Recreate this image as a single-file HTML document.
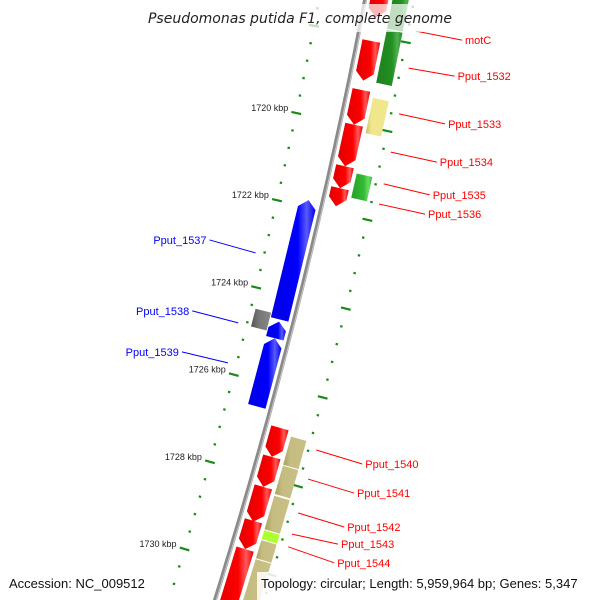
<!DOCTYPE html>
<html><head><meta charset="utf-8"><style>
html,body{margin:0;padding:0;background:#fff;overflow:hidden;width:600px;height:600px;}
svg{display:block;font-family:"Liberation Sans","DejaVu Sans",sans-serif;}
</style></head><body>
<svg id="chart" width="600" height="600" viewBox="0 0 600 600">
<defs>
<linearGradient id="gRed" x1="0" x2="1" y1="0" y2="0"><stop offset="0" stop-color="#e00000"/><stop offset="0.6" stop-color="#ff0000"/><stop offset="0.8" stop-color="#ff5a5a"/><stop offset="1" stop-color="#e80000"/></linearGradient>
<linearGradient id="gBlue" x1="0" x2="1" y1="0" y2="0"><stop offset="0" stop-color="#0000e0"/><stop offset="0.6" stop-color="#0000ff"/><stop offset="0.8" stop-color="#5a5aff"/><stop offset="1" stop-color="#0000e8"/></linearGradient>
<linearGradient id="gDkGreen" x1="0" x2="1" y1="0" y2="0"><stop offset="0" stop-color="#1f801f"/><stop offset="0.6" stop-color="#229022"/><stop offset="0.8" stop-color="#4fb04f"/><stop offset="1" stop-color="#228b22"/></linearGradient>
<linearGradient id="gGreen" x1="0" x2="1" y1="0" y2="0"><stop offset="0" stop-color="#28a028"/><stop offset="0.6" stop-color="#33bb33"/><stop offset="0.8" stop-color="#66dd66"/><stop offset="1" stop-color="#33bb33"/></linearGradient>
<linearGradient id="gYellow" x1="0" x2="1" y1="0" y2="0"><stop offset="0" stop-color="#c8c070"/><stop offset="0.25" stop-color="#f0e68c"/><stop offset="1" stop-color="#f0e68c"/></linearGradient>
<linearGradient id="gKhaki" x1="0" x2="1" y1="0" y2="0"><stop offset="0" stop-color="#a8a060"/><stop offset="0.3" stop-color="#c4bc80"/><stop offset="1" stop-color="#c8c084"/></linearGradient>
<linearGradient id="gLime" x1="0" x2="1" y1="0" y2="0"><stop offset="0" stop-color="#adff2f"/><stop offset="1" stop-color="#adff2f"/></linearGradient>
<linearGradient id="gGray" x1="0" x2="1" y1="0" y2="0"><stop offset="0" stop-color="#555"/><stop offset="0.4" stop-color="#777"/><stop offset="1" stop-color="#888"/></linearGradient>
</defs>
<g id="layer"></g>
<rect x="148" y="4" width="304" height="28" fill="#fff" fill-opacity="0.72"/>
<text x="300" y="23" text-anchor="middle" font-size="14" font-style="italic" fill="#222" style="font-family:'DejaVu Sans',sans-serif">Pseudomonas putida F1, complete genome</text>
<text x="9" y="588" font-size="13" fill="#111">Accession: NC_009512</text>
<rect x="257" y="572" width="343" height="28" fill="#fff" fill-opacity="0.85"/>
<text x="261" y="588" font-size="13" fill="#111">Topology: circular; Length: 5,959,964 bp; Genes: 5,347</text>
</svg>
<script>
// kbp position data
const tickMajorKbp = [1716, 1718, 1720, 1722, 1724, 1726, 1728, 1730, 1732];
const tickLabels = ["1716 kbp","1718 kbp","1720 kbp","1722 kbp","1724 kbp","1726 kbp","1728 kbp","1730 kbp","1732 kbp"];
const geneStarts = [1716.86,1718.30,1719.41,1720.20,1721.14,1721.64, 1716.9,1717.98,1719.52,1721.23, 1722.05,1724.82,1725.20,1724.66, 1727.07,1727.73,1728.41,1729.18,1729.82, 1727.18,1727.84,1728.52,1729.30,1729.52,1729.95];
const geneEnds   = [1717.77,1719.20,1720.20,1721.14,1721.64,1722.05, 1717.98,1719.20,1720.34,1721.80, 1724.77,1725.20,1726.75,1725.09, 1727.73,1728.41,1729.20,1729.82,1731.6, 1727.84,1728.50,1729.30,1729.52,1729.95,1731.6];
const geneStrand = [1,1,1,1,1,1, 0,0,0,0, -1,-1,-1,2, 1,1,1,1,1, 0,0,0,0,0,0];
const geneFill   = ["gRed","gRed","gRed","gRed","gRed","gRed","gDkGreen","gDkGreen","gYellow","gGreen","gBlue","gBlue","gBlue","gGray","gRed","gRed","gRed","gRed","gRed","gKhaki","gKhaki","gKhaki","gLime","gKhaki","gKhaki"];
const geneNames  = ["motC","Pput_1532","Pput_1533","Pput_1534","Pput_1535","Pput_1536","cog-1","cog-2","cog-3","cog-4","Pput_1537","Pput_1538b","Pput_1539","Pput_1538","Pput_1540","Pput_1541","Pput_1542","Pput_1543","Pput_1544","cog-5","cog-6","cog-7","cog-8","cog-9","cog-10"];
const labelText = ["motC","Pput_1532","Pput_1533","Pput_1534","Pput_1535","Pput_1536","Pput_1537","Pput_1538","Pput_1539","Pput_1540","Pput_1541","Pput_1542","Pput_1543","Pput_1544"];
const labelKbp  = [1718.14,1718.98,1720.02,1720.89,1721.61,1722.07,1723.18,1724.77,1725.68,1727.66,1728.32,1729.09,1729.57,1729.86];
const labelSide = [1,1,1,1,1,1,-1,-1,-1,1,1,1,1,1];
const labelDrop = [9,8,10,10,11,10,-13,-12,-11,14,14,14,10,16];

const layer = document.getElementById('layer');
const NS = 'http://www.w3.org/2000/svg';
const Y0 = 113, S = 44;
function yOf(k){ return Y0 + (k - 1720) * S; }
function bx(y){ return 365 - 0.19*y - 1.0e-4*y*y; }
function slope(y){ return -(0.19 + 2.0e-4*y); }
function pt(y, off){ const s = slope(y); const n = Math.sqrt(1+s*s); return [bx(y) + off/n, y - off*s/n]; }
function mk(tag, attrs){ const e = document.createElementNS(NS, tag); for (const k in attrs) e.setAttribute(k, attrs[k]); return e; }

// backbone
let d = '';
for (let y = -10; y <= 610; y += 10) d += (y === -10 ? 'M' : 'L') + bx(y).toFixed(1) + ',' + y;
const bb = mk('path', {d: d, fill: 'none', stroke: '#8a8a8a', 'stroke-width': 4});


layer.appendChild(bb);
const bb2 = mk('path', {d: d, fill: 'none', stroke: '#c8c8c8', 'stroke-width': 1, transform: 'translate(1.2,0)'});


layer.appendChild(bb2);

// tick rings: centre placed horizontally from backbone, dash along normal
function ring(off, shiftKbp, scale, sideName){
  for (let i = 0; i < tickMajorKbp.length; i++){
    for (let j = 0; j < 5; j++){
      const k = tickMajorKbp[i] + j*0.4;
      const y = Y0 + shiftKbp*S + (k - 1720)*scale;
      if (y < -5 || y > 605) continue;
      const cx = bx(y) + off;
      const s = slope(y); const n = Math.sqrt(1+s*s);
      const ux = 1/n, uy = -s/n;
      const half = j === 0 ? 5 : 1.2;
      const l = mk('line', {x1:cx-ux*half,y1:y-uy*half,x2:cx+ux*half,y2:y+uy*half,stroke:'#1a8a1a','stroke-width':2.2});
      
      
      layer.appendChild(l);
    }
  }
}
ring(-46, 0, 43.6, 'left');
ring(49, 0.41, 44.4, 'right');

// tick labels
for (let i = 0; i < tickMajorKbp.length; i++){
  const y = Y0 + (tickMajorKbp[i] - 1720) * 43.6;
  if (y < 40 || y > 570) continue;
  const t = mk('text', {x: bx(y) - 54, y: y - 2, 'text-anchor':'end', 'font-size': 9, fill: '#222'});
  t.textContent = tickLabels[i];
  
  
  layer.appendChild(t);
}

// genes
const offs = {1:[5,23], 0:[27,43], '-1':[-23,-5], 2:[-40,-24]};
for (let i = 0; i < geneStarts.length; i++){
  const y1 = yOf(geneStarts[i]), y2 = yOf(geneEnds[i]);
  const st = geneStrand[i];
  const o = offs[st];
  const m = (o[0]+o[1])/2;
  const h = Math.min(8, (y2-y1)*0.45);
  let pts;
  if (st === 1) pts = [pt(y1,o[0]),pt(y1,o[1]),pt(y2-h,o[1]),pt(y2,m),pt(y2-h,o[0])];
  else if (st === -1) pts = [pt(y1,m),pt(y1+h,o[1]),pt(y2,o[1]),pt(y2,o[0]),pt(y1+h,o[0])];
  else pts = [pt(y1+0.5,o[0]),pt(y1+0.5,o[1]),pt(y2-0.5,o[1]),pt(y2-0.5,o[0])];
  const g = mk('polygon', {points: pts.map(p => p[0].toFixed(1)+','+p[1].toFixed(1)).join(' '), fill: 'url(#'+geneFill[i]+')'});
  
  
  layer.appendChild(g);
}

// labels
for (let i = 0; i < labelText.length; i++){
  const y = yOf(labelKbp[i]);
  const side = labelSide[i];
  const col = side > 0 ? '#ff0000' : '#0000ff';
  const ax = bx(y) + (side > 0 ? 57 : -55);
  const bxp = ax + side*46, by = y + labelDrop[i];
  const l = mk('line', {x1:ax,y1:y,x2:bxp,y2:by,stroke:col,'stroke-width':1});
  
  
  layer.appendChild(l);
  const t = mk('text', {x: bxp + side*3, y: by + 4, 'text-anchor': side > 0 ? 'start' : 'end', 'font-size': 11, fill: col});
  t.textContent = labelText[i];
  
  
  layer.appendChild(t);
}
</script>
</body></html>
